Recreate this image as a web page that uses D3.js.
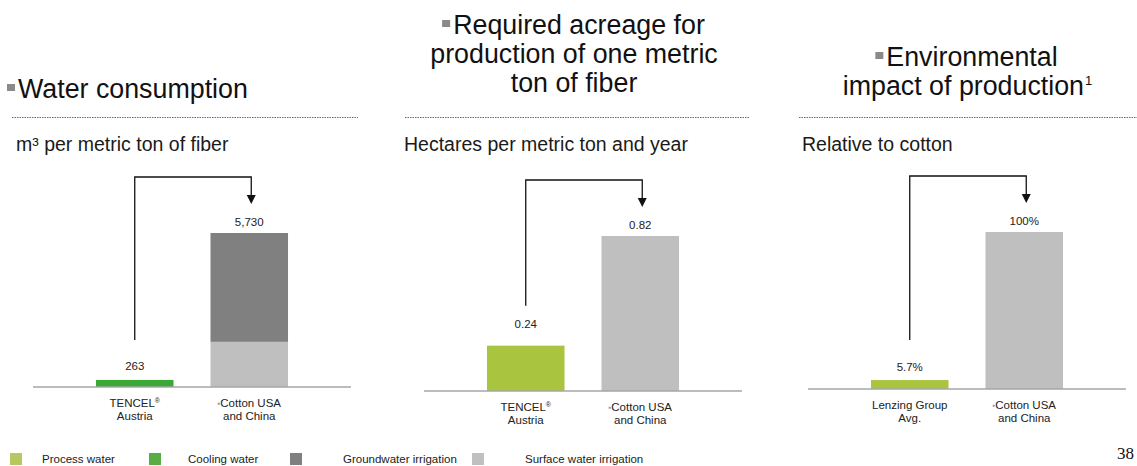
<!DOCTYPE html>
<html><head><meta charset="utf-8">
<script src="https://cdn.jsdelivr.net/npm/d3@7"></script>
<style>
html,body{margin:0;padding:0;background:#fff;}
svg{display:block;font-family:"Liberation Sans",Arial,Helvetica,sans-serif;}
</style>
</head><body>
<svg id="chart" width="1137" height="466"></svg>
<script>
// ---------- DATA ----------
const waterCategories = ["TENCEL®\nAustria", "▪Cotton USA\nand China"];
const waterKeys = ["Process water", "Cooling water", "Surface water irrigation", "Groundwater irrigation"];
const processWater = [0, 0];
const coolingWater = [263, 0];
const surfaceWater = [0, 1680];
const groundWater = [0, 4050];

const acreageCategories = ["TENCEL®\nAustria", "▪Cotton USA\nand China"];
const acreageValues = [0.24, 0.82];

const impactCategories = ["Lenzing Group\nAvg.", "▪Cotton USA\nand China"];
const impactValues = [5.7, 100];

const legendLabels = ["Process water", "Cooling water", "Groundwater irrigation", "Surface water irrigation"];

const panelTitles = [["Water consumption"], ["Required acreage for", "production of one metric", "ton of fiber"], ["Environmental", "impact of production"]];
const panelSubtitles = ["m³ per metric ton of fiber", "Hectares per metric ton and year", "Relative to cotton"];
const pageNumber = "38";

// ---------- STYLE ----------
const colors = {
  "Process water": "#a9c540",
  "Cooling water": "#3aa935",
  "Groundwater irrigation": "#808080",
  "Surface water irrigation": "#bfbfbf"
};
const legendColors = {
  "Process water": "#b7c95e",
  "Cooling water": "#58ad45",
  "Groundwater irrigation": "#808080",
  "Surface water irrigation": "#c0c0c0"
};
const greenBar = "#a9c540";
const grayBar = "#bfbfbf";

const svg = d3.select("#chart");

const layout = [
  {x0: 33, axisY: 387, h: 154, smallGap: 10},
  {x0: 424, axisY: 391, h: 155, smallGap: 17.5},
  {x0: 808, axisY: 389, h: 157, smallGap: 9}
];
const panelW = 318;

// ---------- TITLES ----------
function drawTitle(lines, opts) {
  const g = svg.append("g");
  lines.forEach((line, i) => {
    const t = g.append("text")
      .attr("y", opts.baselines[i])
      .attr("font-size", 26.8)
      .attr("fill", "#111");
    t.append("tspan").text(line);
    if (opts.sup && i === lines.length - 1) {
      t.append("tspan").attr("font-size", 13).attr("dx", 1).attr("dy", -10).text(opts.sup);
    }
    const w = t.node().getComputedTextLength();
    const bw = (i === 0) ? 10 : 0;
    let x;
    if (opts.align === "left") x = opts.x + bw;
    else x = opts.cx - (w + bw) / 2 + bw;
    t.attr("x", x);
    if (i === 0) {
      g.append("rect")
        .attr("x", x - 11).attr("y", opts.baselines[0] - 14)
        .attr("width", 8).attr("height", 7)
        .attr("fill", "#8a8a8a");
    }
  });
}
drawTitle(panelTitles[0], {align: "left", x: 8, baselines: [98]});
drawTitle(panelTitles[1], {align: "center", cx: 574, baselines: [34, 63, 92]});
drawTitle(panelTitles[2], {align: "center", cx: 967, baselines: [66, 95], sup: "1"});

// dotted rules
[[12, 358], [405, 750], [799, 1137]].forEach(([a, b]) => {
  svg.append("line").attr("x1", a).attr("x2", b).attr("y1", 117.5).attr("y2", 117.5)
    .attr("stroke", "#6a6a6a").attr("stroke-width", 1).attr("stroke-dasharray", "1.5,1");
});

// subtitles
[[16, 0], [404, 1], [802, 2]].forEach(([x, i]) => {
  svg.append("text").attr("x", x).attr("y", 151)
    .attr("font-size", 19.5).attr("fill", "#1a1a1a").text(panelSubtitles[i]);
});

// ---------- CATEGORY LABEL ----------
function catLabel(g, text, cx, y0) {
  text.split("\n").forEach((line, li) => {
    const t = g.append("text").attr("x", cx).attr("y", y0 + li * 12.5)
      .attr("text-anchor", "middle").attr("font-size", 11.5).attr("fill", "#222");
    let rest = line;
    if (rest.startsWith("▪")) {
      t.append("tspan").attr("font-size", 8).attr("fill", "#999").attr("dy", -1).text("▪");
      rest = rest.slice(1);
      t.append("tspan").attr("dy", 1).text(rest);
    } else if (rest.endsWith("®")) {
      t.append("tspan").text(rest.slice(0, -1));
      t.append("tspan").attr("font-size", 7).attr("dy", -4).text("®");
    } else {
      t.append("tspan").text(rest);
    }
  });
}

// ---------- PANEL ----------
function drawPanel(idx, categories, stackData, colorFor, totals, fmt) {
  const L = layout[idx];
  const g = svg.append("g");
  const x = d3.scaleBand().domain(d3.range(categories.length))
    .range([L.x0, L.x0 + panelW]).paddingInner(0.323).paddingOuter(0.55);
  const y = d3.scaleLinear().domain([0, d3.max(totals)]).range([L.axisY, L.axisY - L.h]);

  stackData.forEach(layer => {
    g.selectAll(null).data(layer).join("rect")
      .attr("x", (d, i) => x(i))
      .attr("width", x.bandwidth())
      .attr("y", d => y(d[1]))
      .attr("height", d => Math.max(0, y(d[0]) - y(d[1])))
      .attr("fill", (d, i) => colorFor(layer.key, i));
  });

  // axis baseline
  g.append("line").attr("x1", L.x0).attr("x2", L.x0 + panelW)
    .attr("y1", L.axisY).attr("y2", L.axisY)
    .attr("stroke", "#a6a6a6").attr("stroke-width", 1.5);

  // value labels
  g.selectAll(null).data(totals).join("text")
    .attr("x", (d, i) => x(i) + x.bandwidth() / 2)
    .attr("y", (d, i) => y(d) - (i === 0 ? L.smallGap : 7.5))
    .attr("text-anchor", "middle").attr("font-size", 11.5).attr("fill", "#222")
    .text(d => fmt(d));

  // category labels
  categories.forEach((c, i) => catLabel(g, c, x(i) + x.bandwidth() / 2, L.axisY + 20));

  // connector arrow
  const cx1 = x(0) + x.bandwidth() / 2;
  const cx2 = x(1) + x.bandwidth() / 2 + 2;
  const top2 = y(totals[1]);
  const yTop = top2 - 56;
  const yBottom = y(totals[0]) - 40;
  const tip = top2 - 29;
  g.append("path")
    .attr("d", `M${cx1},${yBottom}V${yTop}H${cx2}V${tip - 8}`)
    .attr("fill", "none").attr("stroke", "#111").attr("stroke-width", 1.3);
  g.append("path")
    .attr("d", `M${cx2 - 4.5},${tip - 9}L${cx2 + 4.5},${tip - 9}L${cx2},${tip}Z`)
    .attr("fill", "#111");
}

// Panel 1: stacked water
const waterRows = waterCategories.map((c, i) => ({
  "Process water": processWater[i],
  "Cooling water": coolingWater[i],
  "Surface water irrigation": surfaceWater[i],
  "Groundwater irrigation": groundWater[i]
}));
const waterStack = d3.stack().keys(waterKeys)(waterRows);
const waterTotals = waterRows.map(r => d3.sum(waterKeys, k => r[k]));
drawPanel(0, waterCategories, waterStack, (k) => colors[k], waterTotals, d3.format(","));

// Panel 2
const acreageStack = d3.stack().keys(["v"])(acreageValues.map(v => ({v})));
drawPanel(1, acreageCategories, acreageStack, (k, i) => i === 0 ? greenBar : grayBar, acreageValues, d3.format(".2f"));

// Panel 3
const impactStack = d3.stack().keys(["v"])(impactValues.map(v => ({v})));
drawPanel(2, impactCategories, impactStack, (k, i) => i === 0 ? greenBar : grayBar, impactValues, d => d + "%");

// ---------- LEGEND ----------
const legendSquareX = [10, 149, 290, 472];
const legendTextX = [42, 188, 343, 525];
const lg = svg.append("g");
legendLabels.forEach((lab, i) => {
  lg.append("rect").attr("x", legendSquareX[i]).attr("y", 453).attr("width", 12).attr("height", 12)
    .attr("fill", legendColors[lab]);
  lg.append("text").attr("x", legendTextX[i]).attr("y", 463)
    .attr("font-size", 11.5).attr("fill", "#222").text(lab);
});

// page number
svg.append("text").attr("x", 1134).attr("y", 459).attr("text-anchor", "end")
  .attr("font-family", "'Liberation Serif','Times New Roman',serif")
  .attr("font-size", 17).attr("fill", "#111").text(pageNumber);
</script>
</body></html>
